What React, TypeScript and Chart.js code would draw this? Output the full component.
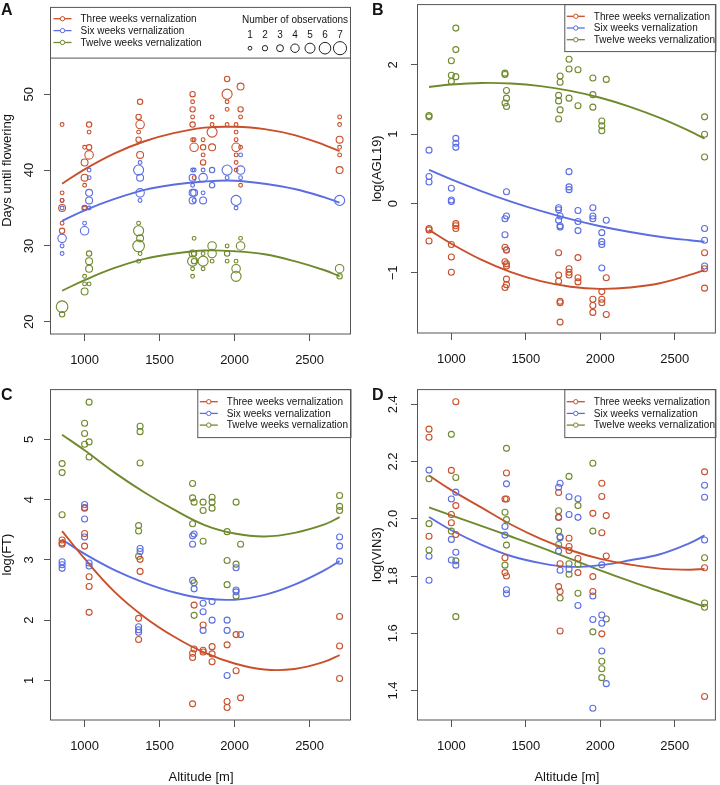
import React, { useEffect, useRef } from 'react';
import { Chart, registerables } from 'chart.js';
Chart.register(...registerables);

const FONT = '"Liberation Sans", Arial, Helvetica, sans-serif';
const TEXT = '#141414';
const AXIS = '#555555';
const RED = '#C9502B';
const BLUE = '#5B6EE1';
const GREEN = '#6F8A2C';

const SERIES_LABELS = ['Three weeks vernalization', 'Six weeks vernalization', 'Twelve weeks vernalization'];
const X_TICKS = [1000, 1500, 2000, 2500];
const X_MIN = 776;
const X_MAX = 2776;
const FIT_X = [850, 1000, 1200, 1400, 1600, 1800, 2000, 2200, 2400, 2600, 2700];
const OBS_COUNTS = [1, 2, 3, 4, 5, 6, 7];

// Panel A: [altitude, days, number of observations]
const A_THREE = [
  [850, 46, 1], [850, 37, 1], [850, 36, 1], [850, 35, 3], [850, 33, 1], [850, 32, 2],
  [1000, 43, 1], [1000, 41, 3], [1000, 39, 3], [1000, 38, 1], [1000, 35, 1],
  [1030, 46, 2], [1030, 45, 1], [1030, 43, 2], [1030, 42, 4],
  [1360, 47, 2], [1360, 45, 1], [1360, 44, 2],
  [1370, 49, 2], [1370, 46, 4], [1370, 42, 3],
  [1720, 50, 2], [1720, 49, 1], [1720, 48, 2], [1720, 47, 1], [1720, 46, 2], [1720, 44, 1],
  [1730, 44, 1], [1730, 43, 4], [1730, 39, 1],
  [1790, 44, 1], [1790, 43, 2], [1790, 42, 1], [1790, 41, 2],
  [1850, 47, 1], [1850, 46, 1], [1850, 45, 5], [1850, 43, 3],
  [1950, 52, 2], [1950, 50, 5], [1950, 49, 1], [1950, 48, 1], [1950, 46, 1],
  [2010, 46, 1], [2010, 45, 1], [2010, 44, 1], [2010, 43, 4], [2010, 42, 1], [2010, 41, 1], [2010, 40, 1],
  [2040, 51, 3], [2040, 48, 2], [2040, 47, 1], [2040, 43, 1], [2040, 38, 1],
  [2700, 47, 1], [2700, 46, 1], [2700, 44, 3], [2700, 43, 1], [2700, 42, 1], [2700, 40, 3],
];
const A_SIX = [
  [850, 36, 1], [850, 35, 1], [850, 31, 4], [850, 30, 1], [850, 29, 1],
  [1000, 35, 2], [1000, 33, 1], [1000, 32, 4],
  [1030, 40, 1], [1030, 39, 1], [1030, 37, 3], [1030, 36, 3], [1030, 35, 1],
  [1360, 40, 5],
  [1370, 41, 1], [1370, 39, 3], [1370, 37, 4], [1370, 36, 1],
  [1720, 40, 1], [1720, 39, 3], [1720, 38, 1], [1720, 37, 3], [1720, 36, 3],
  [1730, 40, 1], [1730, 37, 3], [1730, 36, 1],
  [1790, 40, 1], [1790, 39, 4], [1790, 37, 1], [1790, 36, 3],
  [1850, 40, 2], [1850, 38, 2],
  [1950, 40, 5], [1950, 39, 1],
  [2010, 36, 5], [2010, 35, 1],
  [2040, 42, 1], [2040, 40, 4], [2040, 39, 1],
  [2700, 36, 5],
];
const A_TWELVE = [
  [850, 22, 6], [850, 21, 2],
  [1000, 26, 1], [1000, 25, 1], [1000, 24, 3],
  [1030, 29, 2], [1030, 28, 3], [1030, 27, 3], [1030, 25, 1],
  [1360, 33, 1], [1360, 32, 5], [1360, 30, 6], [1360, 28, 1],
  [1370, 31, 3], [1370, 29, 1],
  [1720, 29, 3], [1720, 28, 5], [1720, 27, 1], [1720, 26, 1],
  [1730, 31, 1], [1730, 29, 2], [1730, 28, 2],
  [1790, 29, 1], [1790, 28, 5], [1790, 27, 1],
  [1850, 30, 4], [1850, 29, 4], [1850, 28, 1],
  [1950, 30, 1], [1950, 29, 2], [1950, 28, 1],
  [2010, 28, 1], [2010, 27, 4], [2010, 26, 5],
  [2040, 31, 1], [2040, 30, 4],
  [2700, 27, 4], [2700, 26, 2],
];
const A_THREE_FIT = [38.2, 40.1, 42.2, 43.8, 44.9, 45.6, 45.7, 45.4, 44.6, 43.3, 42.5];
const A_SIX_FIT = [33.3, 34.7, 36.2, 37.4, 38.1, 38.5, 38.6, 38.2, 37.5, 36.4, 35.7];
const A_TWELVE_FIT = [24.1, 25.5, 27.1, 28.3, 29.0, 29.4, 29.3, 28.9, 28.0, 26.8, 26.0];

// Panel B: log(AGL19)
const B_THREE = [
  [850, -0.36], [850, -0.38], [850, -0.54],
  [1000, -0.59], [1000, -0.77], [1000, -0.99],
  [1030, -0.29], [1030, -0.32], [1030, -0.36],
  [1360, -0.63], [1370, -0.67], [1360, -0.84], [1370, -0.87], [1370, -0.9], [1370, -1.09], [1370, -1.17], [1360, -1.21],
  [1720, -0.71], [1720, -1.03], [1720, -1.12], [1730, -1.41], [1730, -1.43], [1730, -1.71],
  [1790, -0.94], [1790, -0.99], [1790, -1.03],
  [1850, -0.78], [1850, -1.07], [1850, -1.13],
  [1950, -1.38], [1950, -1.47], [1950, -1.57],
  [2010, -1.27], [2010, -1.38], [2010, -1.43],
  [2040, -1.07], [2040, -1.6],
  [2700, -0.71], [2700, -0.94], [2700, -1.22],
];
const B_SIX = [
  [850, 0.77], [850, 0.39], [850, 0.31],
  [1000, 0.22], [1000, 0.05], [1000, 0.03],
  [1030, 0.94], [1030, 0.87], [1030, 0.81],
  [1370, 0.17], [1370, -0.18], [1360, -0.22], [1360, -0.45], [1370, -0.67],
  [1720, -0.06], [1720, -0.09], [1730, -0.18], [1720, -0.24], [1730, -0.32], [1730, -0.34],
  [1790, 0.46], [1790, 0.24], [1790, 0.2],
  [1850, -0.1], [1850, -0.26], [1850, -0.39],
  [1950, -0.06], [1950, -0.18], [1950, -0.22],
  [2010, -0.42], [2010, -0.55], [2010, -0.59], [2010, -0.93],
  [2040, -0.24],
  [2700, -0.36], [2700, -0.53], [2700, -0.9],
];
const B_TWELVE = [
  [850, 1.27], [850, 1.25],
  [1000, 2.06], [1000, 1.85], [1000, 1.76],
  [1030, 2.53], [1030, 2.22], [1030, 1.83],
  [1360, 1.88], [1360, 1.86], [1370, 1.63], [1370, 1.52], [1360, 1.45], [1370, 1.4],
  [1730, 1.84], [1730, 1.75], [1720, 1.56], [1720, 1.48], [1730, 1.35], [1720, 1.22],
  [1790, 2.08], [1790, 1.94], [1790, 1.52],
  [1850, 1.93], [1850, 1.41],
  [1950, 1.81], [1950, 1.57], [1950, 1.39],
  [2010, 1.19], [2010, 1.12], [2010, 1.05],
  [2040, 1.79],
  [2700, 1.25], [2700, 1.0], [2700, 0.67],
];
const B_THREE_FIT = [-0.38, -0.58, -0.81, -0.99, -1.12, -1.2, -1.23, -1.21, -1.15, -1.03, -0.96];
const B_SIX_FIT = [0.485, 0.348, 0.18, 0.028, -0.107, -0.225, -0.327, -0.411, -0.479, -0.53, -0.55];
const B_TWELVE_FIT = [1.68, 1.716, 1.739, 1.731, 1.693, 1.624, 1.525, 1.395, 1.235, 1.044, 0.937];

// Panel C: log(FT)
const C_THREE = [
  [850, 3.33], [850, 3.28], [850, 3.26],
  [1000, 3.86], [1000, 3.44], [1000, 3.23],
  [1030, 2.72], [1030, 2.56], [1030, 2.13],
  [1370, 3.01], [1370, 2.81], [1360, 2.03], [1360, 1.68],
  [1730, 2.25], [1720, 1.45], [1720, 1.38], [1730, 1.52], [1720, 0.61],
  [1790, 1.92], [1790, 1.5], [1790, 1.47],
  [1850, 1.56], [1850, 1.44], [1850, 1.31],
  [1950, 1.59], [1950, 0.65], [1950, 0.55],
  [2010, 1.76], [2010, 1.16],
  [2040, 0.71],
  [2700, 2.06], [2700, 1.57], [2700, 1.03],
];
const C_SIX = [
  [850, 2.97], [850, 2.92], [850, 2.86],
  [1000, 3.92], [1000, 3.87], [1000, 3.68], [1000, 3.38],
  [1030, 2.95], [1030, 2.9],
  [1370, 3.19], [1370, 3.14], [1360, 1.89], [1360, 1.84], [1360, 1.8],
  [1720, 3.4], [1730, 3.43], [1720, 3.26], [1720, 2.66], [1730, 2.52],
  [1790, 2.28], [1790, 2.14], [1790, 1.83],
  [1850, 2.31], [1850, 2.0],
  [1950, 2.0], [1950, 1.83], [1950, 1.08],
  [2010, 2.87], [2010, 2.5], [2010, 2.47],
  [2040, 1.76],
  [2700, 3.38], [2700, 3.23], [2700, 2.98],
];
const C_TWELVE = [
  [850, 4.6], [850, 4.45], [850, 3.75],
  [1000, 5.27], [1000, 5.1], [1000, 4.92],
  [1030, 5.62], [1030, 4.96], [1030, 4.71],
  [1370, 5.22], [1370, 5.13], [1370, 4.61], [1360, 3.57], [1360, 3.48], [1360, 3.06],
  [1720, 4.27], [1720, 4.03], [1730, 3.96], [1720, 3.6], [1730, 2.62], [1730, 2.08],
  [1790, 3.96], [1790, 3.82], [1790, 3.31],
  [1850, 4.04], [1850, 3.96], [1850, 3.86],
  [1950, 3.47], [1950, 2.99], [1950, 2.59],
  [2010, 3.96], [2010, 2.93], [2010, 2.4],
  [2040, 3.26],
  [2700, 4.07], [2700, 3.89], [2700, 3.82],
];
const C_THREE_FIT = [3.48, 3.02, 2.47, 2.05, 1.72, 1.46, 1.28, 1.18, 1.19, 1.31, 1.42];
const C_SIX_FIT = [3.34, 3.1, 2.83, 2.62, 2.46, 2.36, 2.34, 2.42, 2.59, 2.83, 2.98];
const C_TWELVE_FIT = [5.08, 4.82, 4.45, 4.12, 3.83, 3.58, 3.44, 3.39, 3.45, 3.59, 3.71];

// Panel D: log(VIN3)
const D_THREE = [
  [850, 2.313], [850, 2.285], [850, 1.939],
  [1000, 2.169], [1000, 2.015], [1000, 1.986],
  [1030, 2.409], [1030, 2.046], [1030, 1.945],
  [1370, 2.16], [1360, 2.069], [1370, 2.069], [1360, 1.864], [1360, 1.812], [1370, 1.8],
  [1720, 2.092], [1720, 2.005], [1730, 1.843], [1720, 1.763], [1730, 1.746], [1730, 1.608],
  [1790, 1.932], [1790, 1.903], [1790, 1.889],
  [1850, 1.861], [1850, 1.812],
  [1950, 2.019], [1950, 1.798], [1950, 1.746],
  [2010, 2.124], [2010, 2.078], [2010, 1.951], [2010, 1.598],
  [2040, 2.011], [2040, 1.87],
  [2700, 2.164], [2700, 1.829], [2700, 1.379],
];
const D_SIX = [
  [850, 2.17], [850, 1.869], [850, 1.785],
  [1000, 2.069], [1000, 1.928], [1000, 1.856],
  [1030, 2.093], [1030, 1.883], [1030, 1.838],
  [1370, 2.122], [1360, 1.973], [1360, 1.943], [1370, 1.752], [1370, 1.738],
  [1720, 2.11], [1730, 2.124], [1720, 2.005], [1720, 1.887], [1730, 1.934], [1730, 1.82],
  [1790, 2.077], [1790, 2.015], [1790, 1.824],
  [1850, 2.07], [1850, 2.005], [1850, 1.697],
  [1950, 1.73], [1950, 1.648], [1950, 1.338],
  [2010, 1.839], [2010, 1.664], [2010, 1.635], [2010, 1.538],
  [2040, 1.424],
  [2700, 2.117], [2700, 2.075], [2700, 1.926],
];
const D_TWELVE = [
  [850, 2.14], [850, 1.983], [850, 1.891],
  [1000, 2.295], [1000, 1.957],
  [1030, 2.144], [1030, 1.853], [1030, 1.658],
  [1370, 2.246], [1360, 2.023], [1370, 1.997], [1370, 1.908], [1360, 1.838],
  [1720, 2.028], [1720, 1.957], [1720, 1.91], [1730, 1.937], [1730, 1.723],
  [1790, 2.148], [1790, 1.843], [1790, 1.806],
  [1850, 2.046], [1850, 1.841], [1850, 1.74],
  [1950, 2.194], [1950, 1.957], [1950, 1.605],
  [2010, 1.502], [2010, 1.476], [2010, 1.445],
  [2040, 1.65],
  [2700, 1.864], [2700, 1.706], [2700, 1.691],
];
const D_THREE_FIT = [2.151, 2.1, 2.04, 1.98, 1.93, 1.89, 1.86, 1.84, 1.826, 1.822, 1.825];
const D_SIX_FIT = [2.006, 1.96, 1.91, 1.87, 1.845, 1.832, 1.838, 1.855, 1.876, 1.915, 1.942];
const D_TWELVE_FIT = [2.04, 2.012, 1.975, 1.938, 1.9, 1.86, 1.82, 1.782, 1.746, 1.711, 1.693];

const A_Y_TICKS = [20, 30, 40, 50];
const B_Y_TICKS = [-1, 0, 1, 2];
const C_Y_TICKS = [1, 2, 3, 4, 5];
const D_Y_TICKS = [1.4, 1.6, 1.8, 2.0, 2.2, 2.4];
const A_Y_LABELS = ['20', '30', '40', '50'];
const B_Y_LABELS = ['\u22121', '0', '1', '2'];
const C_Y_LABELS = ['1', '2', '3', '4', '5'];
const D_Y_LABELS = ['1.4', '1.6', '1.8', '2.0', '2.2', '2.4'];

type Series = { label: string; color: string; points: number[][]; fit: number[] };
type Spec = {
  left: number; top: number; w: number; h: number;
  yAxisW: number; padR: number; padT: number; xAxisH: number;
  yMin: number; yMax: number; yTicks: number[]; yLabels: string[];
  yTitle: string; yTitleX: number; yLabelDist: number;
  letter: string; letterX: number; letterY: number;
  xTitle: boolean; xTitleY: number;
  legend: 'sized' | 'box'; legendH: number; rowY: number[];
  sized: boolean;
  series: Series[];
};

const sizeR = (n: number) => 1.9 + (n - 1) * 0.78;

const mkSeries = (pts: number[][][], fits: number[][]): Series[] =>
  [RED, BLUE, GREEN].map((c, i) => ({ label: SERIES_LABELS[i], color: c, points: pts[i], fit: fits[i] }));

const SPECS: Spec[] = [
  {
    left: 0, top: 0, w: 360, h: 385, yAxisW: 51, padR: 9, padT: 1, xAxisH: 51,
    yMin: 18.4, yMax: 61.5, yTicks: A_Y_TICKS, yLabels: A_Y_LABELS,
    yTitle: 'Days until flowering', yTitleX: 7, yLabelDist: 22,
    letter: 'A', letterX: 1, letterY: 15, xTitle: false, xTitleY: 0,
    legend: 'sized', legendH: 50.7, rowY: [11.8, 23.7, 35.6], sized: true,
    series: mkSeries([A_THREE, A_SIX, A_TWELVE], [A_THREE_FIT, A_SIX_FIT, A_TWELVE_FIT]),
  },
  {
    left: 360, top: 0, w: 360, h: 385, yAxisW: 58, padR: 1, padT: 1, xAxisH: 52,
    yMin: -1.867, yMax: 2.876, yTicks: B_Y_TICKS, yLabels: B_Y_LABELS,
    yTitle: 'log(AGL19)', yTitleX: 17, yLabelDist: 25,
    letter: 'B', letterX: 12, letterY: 15, xTitle: false, xTitleY: 0,
    legend: 'box', legendH: 47, rowY: [12.2, 23.9, 35.6], sized: false,
    series: mkSeries([B_THREE, B_SIX, B_TWELVE], [B_THREE_FIT, B_SIX_FIT, B_TWELVE_FIT]),
  },
  {
    left: 0, top: 385, w: 360, h: 400, yAxisW: 51, padR: 9, padT: 2, xAxisH: 65,
    yMin: 0.342, yMax: 5.837, yTicks: C_Y_TICKS, yLabels: C_Y_LABELS,
    yTitle: 'log(FT)', yTitleX: 7, yLabelDist: 22,
    letter: 'C', letterX: 1, letterY: 15, xTitle: true, xTitleY: 392,
    legend: 'box', legendH: 48, rowY: [12.6, 24.3, 36.0], sized: false,
    series: mkSeries([C_THREE, C_SIX, C_TWELVE], [C_THREE_FIT, C_SIX_FIT, C_TWELVE_FIT]),
  },
  {
    left: 360, top: 385, w: 360, h: 400, yAxisW: 58, padR: 1, padT: 2, xAxisH: 65,
    yMin: 1.297, yMax: 2.453, yTicks: D_Y_TICKS, yLabels: D_Y_LABELS,
    yTitle: 'log(VIN3)', yTitleX: 17, yLabelDist: 25,
    letter: 'D', letterX: 12, letterY: 15, xTitle: true, xTitleY: 392,
    legend: 'box', legendH: 48, rowY: [12.6, 24.3, 36.0], sized: false,
    series: mkSeries([D_THREE, D_SIX, D_TWELVE], [D_THREE_FIT, D_SIX_FIT, D_TWELVE_FIT]),
  },
];

function rotText(ctx: CanvasRenderingContext2D, text: string, x: number, y: number) {
  ctx.save();
  ctx.translate(x, y);
  ctx.rotate(-Math.PI / 2);
  ctx.textAlign = 'center';
  ctx.textBaseline = 'middle';
  ctx.fillText(text, 0, 0);
  ctx.restore();
}

function legendRow(ctx: CanvasRenderingContext2D, x0: number, y: number, color: string, label: string) {
  ctx.strokeStyle = color;
  ctx.lineWidth = 1.3;
  ctx.beginPath();
  ctx.moveTo(x0 + 2.5, y);
  ctx.lineTo(x0 + 20.5, y);
  ctx.stroke();
  ctx.beginPath();
  ctx.arc(x0 + 11.5, y, 2.2, 0, Math.PI * 2);
  ctx.fillStyle = '#ffffff';
  ctx.fill();
  ctx.lineWidth = 1;
  ctx.stroke();
  ctx.fillStyle = TEXT;
  ctx.font = `10px ${FONT}`;
  ctx.textAlign = 'left';
  ctx.textBaseline = 'middle';
  ctx.fillText(label, x0 + 29.5, y + 0.5);
}

function drawFrame(chart: any, spec: Spec) {
  const ctx: CanvasRenderingContext2D = chart.ctx;
  const { left, right, top, bottom } = chart.chartArea;
  const ys = chart.scales.y;
  ctx.save();

  // legends
  ctx.strokeStyle = AXIS;
  ctx.lineWidth = 1;
  if (spec.legend === 'sized') {
    ctx.fillStyle = '#ffffff';
    ctx.fillRect(left, top, right - left, spec.legendH);
    ctx.strokeStyle = AXIS;
    ctx.beginPath();
    ctx.moveTo(left, top + spec.legendH + 0.5);
    ctx.lineTo(right, top + spec.legendH + 0.5);
    ctx.stroke();
    spec.series.forEach((s, i) => legendRow(ctx, left, top + spec.rowY[i], s.color, s.label));
    ctx.fillStyle = TEXT;
    ctx.font = `10px ${FONT}`;
    ctx.textAlign = 'center';
    ctx.textBaseline = 'middle';
    ctx.fillText('Number of observations', left + 244, top + 13);
    OBS_COUNTS.forEach((n, i) => {
      const cx = left + 199 + i * 15;
      ctx.fillStyle = TEXT;
      ctx.fillText(String(n), cx, top + 28.3);
      ctx.strokeStyle = '#222222';
      ctx.lineWidth = 1;
      ctx.beginPath();
      ctx.arc(cx, top + 41.3, sizeR(n), 0, Math.PI * 2);
      ctx.stroke();
    });
  } else {
    const bx = left + 146.3;
    ctx.fillStyle = '#ffffff';
    ctx.fillRect(bx, top, right - bx, spec.legendH);
    ctx.strokeStyle = AXIS;
    ctx.lineWidth = 1;
    ctx.strokeRect(bx + 0.5, top + 0.5, right - bx - 0.5, spec.legendH);
    spec.series.forEach((s, i) => legendRow(ctx, bx, top + spec.rowY[i], s.color, s.label));
  }

  // plot box
  ctx.strokeStyle = AXIS;
  ctx.lineWidth = 1;
  ctx.strokeRect(left - 0.5, top + 0.5, right - left, bottom - top - 0.5);

  // y tick labels (rotated, as in R)
  ctx.fillStyle = TEXT;
  ctx.font = `13px ${FONT}`;
  spec.yTicks.forEach((v, i) => {
    rotText(ctx, spec.yLabels[i], left - spec.yLabelDist, ys.getPixelForValue(v));
  });

  // y title
  rotText(ctx, spec.yTitle, spec.yTitleX, (top + bottom) / 2);

  // x title
  if (spec.xTitle) {
    ctx.textAlign = 'center';
    ctx.textBaseline = 'middle';
    ctx.fillText('Altitude [m]', (left + right) / 2, spec.xTitleY);
  }

  // panel letter
  ctx.font = `bold 16px ${FONT}`;
  ctx.textAlign = 'left';
  ctx.textBaseline = 'alphabetic';
  ctx.fillText(spec.letter, spec.letterX, spec.letterY);
  ctx.restore();
}

function buildConfig(spec: Spec): any {
  const datasets: any[] = [];
  spec.series.forEach((s) => {
    datasets.push({
      label: s.label,
      data: s.points.map((p) => ({ x: p[0], y: p[1], n: p.length > 2 ? p[2] : 1 })),
      showLine: false,
      pointStyle: 'circle',
      pointRadius: spec.sized ? (c: any) => sizeR(c.raw && c.raw.n ? c.raw.n : 1) : 3,
      pointHoverRadius: spec.sized ? (c: any) => sizeR(c.raw && c.raw.n ? c.raw.n : 1) : 3,
      pointBackgroundColor: 'rgba(0,0,0,0)',
      pointBorderColor: s.color,
      pointBorderWidth: 1.1,
      borderColor: s.color,
      backgroundColor: 'rgba(0,0,0,0)',
    });
  });
  spec.series.forEach((s) => {
    datasets.push({
      label: s.label + ' fit',
      data: FIT_X.map((x, i) => ({ x, y: s.fit[i] })),
      showLine: true,
      pointRadius: 0,
      pointHoverRadius: 0,
      borderColor: s.color,
      borderWidth: 1.9,
      tension: 0.4,
      fill: false,
    });
  });
  const grid = { drawOnChartArea: false, drawTicks: true, tickLength: 7, color: AXIS, lineWidth: 1 };
  return {
    type: 'scatter',
    data: { datasets },
    options: {
      responsive: false,
      maintainAspectRatio: false,
      animation: false,
      devicePixelRatio: 1,
      events: [],
      layout: { padding: { left: 0, right: spec.padR, top: spec.padT, bottom: 0 } },
      plugins: { legend: { display: false }, tooltip: { enabled: false }, title: { display: false } },
      scales: {
        x: {
          type: 'linear',
          position: 'bottom',
          min: X_MIN,
          max: X_MAX,
          afterBuildTicks: (s: any) => { s.ticks = X_TICKS.map((v) => ({ value: v })); },
          afterFit: (s: any) => { s.height = spec.xAxisH; },
          ticks: {
            font: { family: FONT, size: 13 },
            color: TEXT,
            padding: 12,
            maxRotation: 0,
            minRotation: 0,
            autoSkip: false,
            callback: (v: any) => String(v),
          },
          grid,
          border: { display: false },
        },
        y: {
          type: 'linear',
          position: 'left',
          min: spec.yMin,
          max: spec.yMax,
          afterBuildTicks: (s: any) => { s.ticks = spec.yTicks.map((v) => ({ value: v })); },
          afterFit: (s: any) => { s.width = spec.yAxisW; },
          ticks: { display: false },
          grid,
          border: { display: false },
        },
      },
    },
    plugins: [{ id: 'rframe', afterDatasetsDraw: (chart: any) => drawFrame(chart, spec) }],
  };
}

function Panel({ spec }: { spec: Spec }) {
  const ref = useRef<HTMLCanvasElement>(null);
  useEffect(() => {
    if (!ref.current) return;
    const chart = new Chart(ref.current, buildConfig(spec));
    return () => chart.destroy();
  }, [spec]);
  return (
    <canvas
      ref={ref}
      width={spec.w}
      height={spec.h}
      style={{ position: 'absolute', left: spec.left, top: spec.top, width: spec.w, height: spec.h }}
    />
  );
}

export default function App() {
  return (
    <div style={{ position: 'absolute', left: 0, top: 0, width: 720, height: 785, background: '#ffffff', overflow: 'hidden' }}>
      {SPECS.map((s) => (
        <Panel key={s.letter} spec={s} />
      ))}
    </div>
  );
}
